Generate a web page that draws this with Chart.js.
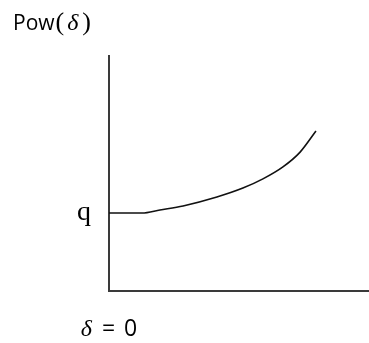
<!DOCTYPE html>
<html>
<head>
<meta charset="utf-8">
<script src="https://cdn.jsdelivr.net/npm/chart.js@4"></script>
<style>
  html, body { margin: 0; padding: 0; background: #fff; }
  #wrap { width: 369px; height: 343px; position: relative; }
</style>
</head>
<body>
<div id="wrap"><canvas id="powChart"></canvas></div>
<script>
// power as delta grows: flat at q, then rising
const deltaValues = [0, 1.27, 1.96, 2.85, 4.15, 5.15, 5.92, 6.69, 7.35, 7.96];
const powValues = [3.32, 3.32, 3.45, 3.62, 4.00, 4.38, 4.77, 5.28, 5.91, 6.81];
const yTickLabels = ['q'];
const xTickLabels = ['δ = 0'];

const axisColor = '#3a3a3a';
const sans = '"Open Sans", "Liberation Sans", sans-serif';
const serif = '"Liberation Serif", "DejaVu Serif", serif';

// draw a row of text runs, each with its own font
function drawRuns(ctx, runs, x, y, align) {
  let total = 0;
  runs.forEach(r => {
    ctx.font = r.font;
    total += ctx.measureText(r.text).width + (r.gap || 0);
  });
  let cx = align === 'center' ? x - total / 2 : x;
  runs.forEach(r => {
    ctx.font = r.font;
    ctx.fillText(r.text, cx, y);
    cx += ctx.measureText(r.text).width + (r.gap || 0);
  });
}

const mathLabels = {
  id: 'mathLabels',
  afterDraw(chart) {
    const ctx = chart.ctx;
    const xs = chart.scales.x;
    ctx.save();
    ctx.fillStyle = '#000';
    ctx.textBaseline = 'alphabetic';
    ctx.textAlign = 'left';
    // axis title top left
    drawRuns(ctx, [
      { text: 'Pow', font: '21px ' + sans, gap: 1 },
      { text: '(', font: '26px ' + serif, gap: 3 },
      { text: 'δ', font: 'italic 24px ' + serif, gap: 4 },
      { text: ')', font: '26px ' + serif }
    ], 13, 30, 'left');
    // label under the origin
    const parts = xTickLabels[0].split(' ');
    drawRuns(ctx, [
      { text: parts[0], font: 'italic 24px ' + serif, gap: 10 },
      { text: parts[1], font: '23px ' + sans, gap: 9 },
      { text: parts[2], font: '23px ' + sans }
    ], xs.getPixelForValue(deltaValues[0]), 336, 'center');
    ctx.restore();
  }
};

new Chart(document.getElementById('powChart'), {
  type: 'line',
  data: {
    datasets: [{
      data: deltaValues.map((d, i) => ({ x: d, y: powValues[i] })),
      borderColor: '#111',
      borderWidth: 1.6,
      pointRadius: 0,
      cubicInterpolationMode: 'monotone',
      fill: false
    }]
  },
  options: {
    responsive: true,
    maintainAspectRatio: false,
    animation: false,
    layout: { padding: { top: 56, right: 0, bottom: 0, left: 0 } },
    plugins: { legend: { display: false }, tooltip: { enabled: false } },
    scales: {
      x: {
        type: 'linear',
        min: 0,
        max: 10,
        grid: { display: false, drawTicks: false },
        border: { display: true, color: axisColor, width: 2 },
        ticks: { display: false },
        afterFit(scale) { scale.height = 52; }
      },
      y: {
        type: 'linear',
        min: 0,
        max: 10,
        grid: { display: false, drawTicks: false },
        border: { display: true, color: axisColor, width: 2 },
        afterBuildTicks(scale) { scale.ticks = [{ value: powValues[0] }]; },
        ticks: {
          padding: 18,
          color: '#000',
          font: { family: serif, size: 28 },
          callback: () => yTickLabels[0]
        },
        afterFit(scale) { scale.width = 109; }
      }
    }
  },
  plugins: [mathLabels]
});
</script>
</body>
</html>
